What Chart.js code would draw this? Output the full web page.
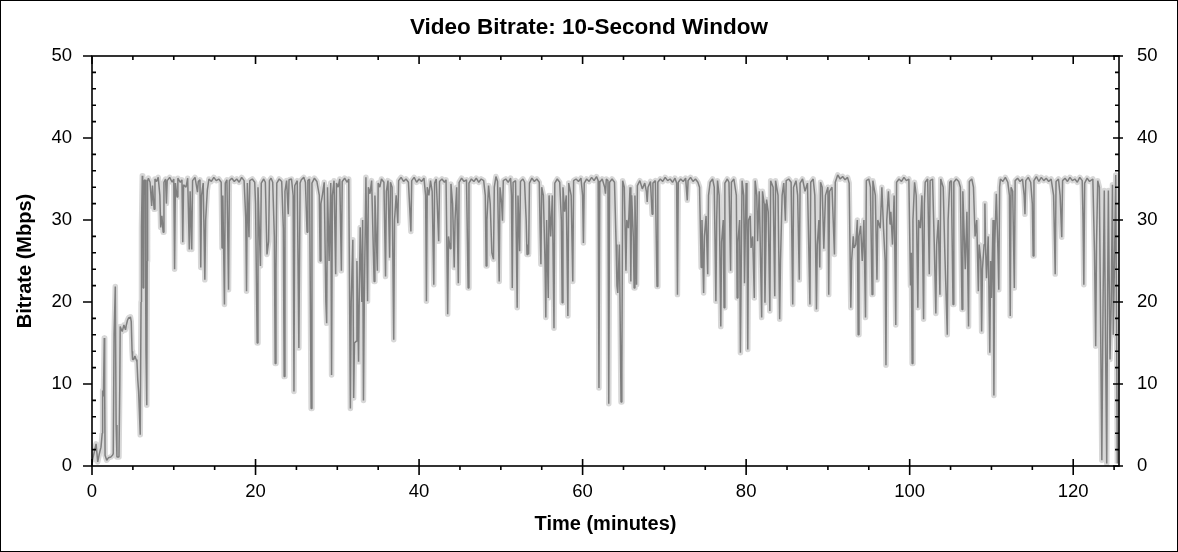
<!DOCTYPE html>
<html>
<head>
<meta charset="utf-8">
<title>Video Bitrate: 10-Second Window</title>
<script src="https://cdn.jsdelivr.net/npm/chart.js@4.4.1/dist/chart.umd.min.js"></script>
<style>
  html, body { margin: 0; padding: 0; background: #fff; }
  #wrap { width: 1178px; height: 552px; }
</style>
</head>
<body>
<div id="wrap"><canvas id="bitrate-chart" width="1178" height="552"></canvas></div>
<script>
const chartTitle = 'Video Bitrate: 10-Second Window';
const xTitle = 'Time (minutes)';
const yTitle = 'Bitrate (Mbps)';
const xMax = 125.6;
const yMax = 50;
const xMajor = 20, xMinor = 5, yMajor = 10, yMinor = 2;

// time of each sample, in minutes
const minutes = [
  0, 0.3, 0.5, 0.7, 0.9, 1.1, 1.25, 1.3, 1.4, 1.5,
  1.55, 1.6, 1.8, 2.0, 2.3, 2.5, 2.6, 2.7, 2.85, 2.95,
  3.05, 3.3, 3.4, 3.45, 3.6, 3.7, 3.9, 4.1, 4.2, 4.35,
  4.5, 4.6, 4.7, 4.8, 4.9, 4.96, 5.1, 5.25, 5.4, 5.5,
  5.6, 5.7, 5.8, 5.9, 6.0, 6.05, 6.15, 6.2, 6.26, 6.32,
  6.38, 6.5, 6.6, 6.7, 6.75, 6.8,
  6.9, 7.1, 7.3, 7.4, 7.6, 7.7, 7.9, 8.1, 8.3, 8.4,
  8.55, 8.7, 8.8, 9.0, 9.1, 9.2, 9.5, 9.8, 10.0, 10.1,
  10.2, 10.4, 10.5, 10.8, 11.0, 11.1, 11.2, 11.5, 11.7, 11.9,
  12.0, 12.2, 12.3, 12.6, 12.9, 13.0, 13.2, 13.3, 13.4, 13.6,
  13.8, 13.9, 14.1, 14.3, 14.6, 14.9, 15.2, 15.5, 15.8, 15.9,
  16.0, 16.2, 16.3, 16.5, 16.7, 16.8, 17.1, 17.4, 17.7, 18.0,
  18.3, 18.6, 18.8, 18.9, 19.0, 19.2, 19.3, 19.6, 19.9, 20.0,
  20.2, 20.3, 20.6, 20.7, 21.0, 21.2, 21.4, 21.6, 21.7, 21.9,
  22.1, 22.3, 22.4, 22.5, 22.6, 22.9, 23.2, 23.4, 23.5, 23.6,
  23.8, 24.0, 24.1, 24.4, 24.6, 24.7, 24.8, 25.1, 25.3, 25.45,
  25.6, 25.9, 26.1, 26.3, 26.4, 26.6, 26.8, 26.9, 27.2, 27.5,
  27.8, 27.9, 28.0, 28.2, 28.4, 28.6, 28.7, 28.8, 29.0, 29.2,
  29.3, 29.4, 29.6, 29.8, 29.9, 30.1, 30.3, 30.5, 30.6, 30.9,
  31.2, 31.4, 31.6, 31.7, 31.9, 32.0, 32.1, 32.3, 32.4, 32.6,
  32.7, 32.8, 33.0, 33.1, 33.2, 33.3, 33.5, 33.7, 33.8, 34.0,
  34.2, 34.5, 34.6, 34.9, 35.0, 35.2, 35.4, 35.7, 35.9, 36.0,
  36.2, 36.4, 36.5, 36.7, 36.9, 37.0, 37.2, 37.4, 37.5, 37.8,
  38.1, 38.4, 38.7, 39.0, 39.1, 39.4, 39.7, 40.0, 40.3, 40.6,
  40.8, 40.9, 41.0, 41.2, 41.4, 41.6, 41.8, 41.9, 42.1, 42.4,
  42.5, 42.8, 43.1, 43.3, 43.5, 43.6, 43.8, 43.9, 44.1, 44.3,
  44.4, 44.6, 44.8, 44.9, 45.2, 45.5, 45.8, 46.0, 46.1, 46.4,
  46.7, 47.0, 47.3, 47.6, 47.9, 48.1, 48.2, 48.3, 48.5, 48.7,
  48.9, 49.1, 49.2, 49.4, 49.6, 49.8, 49.9, 50.1, 50.2, 50.3,
  50.6, 50.9,
  51.2, 51.3, 51.4, 51.5, 51.8, 52.0, 52.1, 52.3, 52.4, 52.7,
  52.9, 53.1, 53.2, 53.3, 53.4, 53.5, 53.8, 54.1, 54.4, 54.7,
  54.8, 54.9, 55.0, 55.2, 55.4, 55.5, 55.6, 55.8, 55.9, 56.1,
  56.3, 56.5, 56.6, 56.9, 57.2, 57.4, 57.5, 57.6, 57.8, 58.0,
  58.2, 58.3, 58.6, 58.8, 58.9, 59.2, 59.5, 59.8, 60.0, 60.1,
  60.2, 60.5, 60.8, 61.1, 61.4, 61.7, 61.9, 62.0, 62.1, 62.4,
  62.7, 62.8, 62.9, 63.1, 63.2, 63.3, 63.6, 63.9, 64.1, 64.2,
  64.3, 64.5, 64.7, 64.8, 64.9, 65.1, 65.3, 65.4, 65.6, 65.8,
  65.9, 66.0, 66.2, 66.3, 66.4, 66.6, 66.7, 67.0, 67.3, 67.6,
  67.8, 67.9, 68.0, 68.3, 68.5, 68.6, 68.9, 69.1, 69.2, 69.5,
  69.8, 70.1, 70.4, 70.7, 71.0, 71.3, 71.5, 71.6, 71.7, 72.0,
  72.3, 72.6, 72.8, 72.9, 73.2, 73.5, 73.8, 74.1, 74.3, 74.5,
  74.6, 74.8, 74.9, 75.1, 75.3, 75.4, 75.6, 75.9, 76.1, 76.3,
  76.4,
  76.5, 76.7, 76.9, 77.0, 77.2, 77.3, 77.4, 77.7, 77.9, 78.1,
  78.2, 78.5, 78.8, 78.9, 79.0, 79.2, 79.3, 79.5, 79.7, 79.8,
  80.0, 80.1, 80.2, 80.3, 80.5, 80.6, 80.8, 81.0, 81.1, 81.3,
  81.4, 81.6, 81.9, 82.0, 82.2, 82.3, 82.5, 82.7, 82.9, 83.0,
  83.3, 83.5, 83.6, 83.9, 84.1, 84.2, 84.4, 84.6, 84.8, 84.9,
  85.2, 85.5, 85.7, 85.8, 86.1, 86.3, 86.5, 86.6, 86.9, 87.2,
  87.5, 87.8, 87.9, 88.2, 88.4, 88.6, 88.7, 88.9, 89.0, 89.1,
  89.3, 89.5, 89.7, 90.0, 90.1, 90.2, 90.5, 90.8, 90.9, 91.2,
  91.5, 91.8, 92.1, 92.4, 92.6, 92.8, 92.9, 93.1, 93.2, 93.4,
  93.6, 93.7, 93.8, 94.0, 94.2, 94.4, 94.6, 94.7, 95.0, 95.2,
  95.4, 95.5, 95.8, 96.0, 96.1, 96.4, 96.6, 96.8, 97.0, 97.1,
  97.2, 97.4, 97.6, 97.7, 97.9, 98.1, 98.3, 98.4, 98.7, 99.0,
  99.3, 99.6, 99.9, 100.1, 100.2, 100.3, 100.4, 100.6, 100.8, 101.0,
  101.1, 101.3, 101.5, 101.7, 101.8,
  101.9, 102.2, 102.4, 102.5, 102.8, 103.0, 103.2, 103.3, 103.5, 103.7,
  103.8, 104.1, 104.3, 104.6, 104.7, 104.9, 105.1, 105.3, 105.4, 105.7,
  106.0, 106.2, 106.4, 106.5, 106.8, 107.0, 107.2, 107.3, 107.6, 107.8,
  108.0, 108.2, 108.4, 108.5, 108.7, 108.8, 108.9, 109.1, 109.2, 109.3,
  109.4, 109.6, 109.8, 109.9, 110.0, 110.2, 110.3, 110.4, 110.6, 110.8,
  110.9, 111.0, 111.1, 111.4, 111.7, 112.0, 112.2, 112.3, 112.4, 112.6,
  112.8, 112.9, 113.2, 113.5, 113.8, 114.0, 114.1, 114.2, 114.5, 114.8,
  115.0, 115.1, 115.2, 115.5, 115.8, 116.1, 116.4, 116.7, 117.0, 117.3,
  117.6, 117.8, 117.9, 118.2, 118.4, 118.6, 118.7, 119.0, 119.3, 119.6,
  119.9, 120.2, 120.5, 120.8, 121.1, 121.2, 121.3, 121.4, 121.7, 122.0,
  122.4, 122.6, 122.75, 122.85, 123.0, 123.2, 123.5, 123.65, 123.8, 123.95,
  124.1, 124.2, 124.3, 124.4, 124.5, 124.65, 124.8, 124.9, 125.05, 125.2,
  125.4
];

// bitrate over the 10-second window ending at each sample, in Mbps
const mbps = [
  0.5, 1.8, 2.7, 0.5, 1.5, 2.3, 4.0, 9.2, 8.5, 15.6,
  9.0, 1.3, 0.7, 1.0, 1.1, 1.3, 1.5, 16.0, 21.9, 5.0,
  1.1, 1.1, 10.0, 17.0, 16.6, 16.4, 17.2, 16.6, 17.2, 17.8,
  18.1, 18.0, 18.2, 17.6, 14.0, 13.0, 13.0, 13.4, 13.0, 12.7,
  10.5, 9.1, 6.5, 3.8, 20.0, 29.1, 35.4, 34.6, 21.7, 33.0,
  34.8, 34.9, 14.0, 7.4, 25.0, 34.8,
  35.1, 34.6, 31.7, 34.2, 31.3, 35.0, 34.7, 35.2, 33.0, 29.1,
  30.5, 28.5, 34.6, 35.0, 32.0, 34.8, 35.2, 34.6, 35.0, 24.0,
  34.5, 32.8, 35.1, 34.6, 34.9, 27.3, 34.3, 34.0, 35.1, 26.4,
  33.5, 26.4, 34.8, 35.2, 33.4, 34.7, 34.9, 24.2, 33.0, 34.5,
  22.7, 30.0, 33.6, 35.0, 34.7, 35.2, 34.8, 35.0, 34.6, 26.6,
  33.0, 19.7, 34.5, 34.9, 21.5, 34.8, 35.1, 34.7, 35.0, 34.6,
  35.2, 34.8, 30.3, 21.3, 34.5, 27.9, 34.8, 35.0, 34.6, 32.0,
  15.0, 34.0, 24.4, 34.5, 35.0, 34.6, 25.8, 27.4, 34.8, 35.1,
  34.6, 28.0, 12.5, 23.8, 34.5, 35.0, 34.7, 29.0, 10.9, 33.5,
  34.8, 30.7, 34.9, 35.0, 33.0, 9.1, 34.2, 34.8, 14.4, 34.5,
  34.9, 35.2, 34.6, 28.5, 34.8, 35.0, 7.0, 34.5, 35.1, 34.7,
  33.0, 25.0, 32.0, 33.2, 34.6, 20.0, 17.4, 34.0, 25.0, 34.5,
  11.1, 33.0, 34.8, 23.4, 34.5, 34.0, 35.0, 23.8, 34.7, 35.1,
  34.6, 35.0, 7.0, 20.0, 27.6, 8.3, 15.0, 15.2, 25.0, 12.7,
  22.0, 29.1, 20.0, 30.0, 8.0, 20.0, 35.2, 20.1, 34.0, 33.2,
  34.8, 22.5, 33.0, 23.8, 34.5, 34.0, 35.0, 34.6, 23.1, 33.5,
  34.8, 25.4, 34.6, 34.0, 15.4, 30.0, 33.0, 29.6, 34.8, 35.2,
  34.7, 35.0, 34.6, 28.6, 34.8, 35.2, 34.6, 35.0, 34.7, 35.1,
  33.0, 20.1, 34.0, 33.0, 34.8, 33.5, 22.1, 34.5, 35.0, 27.4,
  34.7, 35.0, 34.6, 34.9, 18.5, 28.0, 26.5, 34.4, 32.0, 24.2,
  30.0, 34.0, 22.3, 34.6, 35.1, 34.7, 34.9, 21.7, 34.5, 35.0,
  34.7, 35.1, 34.6, 35.0, 34.8, 33.0, 24.4, 30.0, 34.2, 32.0,
  26.0, 25.2, 34.0, 35.3, 34.7, 22.5, 34.0, 32.0, 29.9, 34.8,
  35.0, 34.6,
  35.1, 33.0, 21.7, 34.6, 34.8, 19.3, 33.0, 26.2, 34.7, 35.0,
  34.6, 30.0, 25.8, 27.0, 25.8, 34.5, 35.1, 34.7, 35.0, 34.6,
  29.0, 24.6, 34.0, 33.0, 25.0, 18.1, 30.0, 20.5, 33.0, 28.0,
  33.0, 16.8, 34.5, 35.0, 34.6, 30.0, 19.9, 34.0, 31.0, 33.0,
  18.3, 34.5, 33.0, 22.5, 34.8, 35.0, 34.7, 35.1, 33.0, 27.2,
  34.5, 35.0, 34.7, 35.2, 34.8, 35.3, 34.8, 9.5, 34.6, 35.0,
  34.0, 33.2, 35.0, 34.8, 7.6, 34.6, 35.0, 34.6, 27.0, 22.0,
  21.1, 27.0, 7.8, 11.3, 34.8, 34.0, 23.8, 30.0, 29.0, 34.0,
  22.5, 33.0, 28.0, 21.7, 33.0, 22.1, 34.2, 34.8, 33.8, 34.5,
  33.5, 32.2, 34.0, 34.7, 30.7, 34.5, 34.8, 21.9, 34.6, 35.0,
  34.7, 35.2, 34.8, 35.0, 34.6, 35.1, 34.5, 20.9, 34.6, 35.0,
  34.7, 35.1, 32.4, 34.8, 35.2, 34.7, 35.0, 34.6, 34.0, 24.2,
  30.0, 21.1, 28.0, 30.5, 23.4, 33.0, 34.6, 35.0, 34.0, 20.1,
  30.0,
  34.8, 33.0, 17.0, 27.3, 30.0, 19.3, 34.5, 35.0, 34.6, 23.8,
  34.6, 35.0, 33.0, 20.5, 27.3, 30.0, 13.8, 34.8, 33.0, 22.3,
  34.5, 30.0, 14.2, 30.0, 30.5, 26.6, 28.0, 20.5, 34.8, 33.0,
  27.4, 33.5, 18.1, 33.5, 32.0, 19.9, 32.5, 31.0, 18.9, 34.8,
  34.0, 20.7, 34.8, 33.0, 17.9, 25.0, 33.0, 34.5, 29.9, 34.8,
  35.0, 34.6, 19.7, 34.0, 34.8, 33.0, 22.7, 34.5, 35.0, 33.5,
  34.5, 19.7, 34.6, 35.0, 33.0, 19.1, 27.0, 30.0, 24.2, 34.6,
  34.0, 26.5, 33.0, 34.0, 20.9, 33.5, 34.0, 25.8, 34.6, 35.5,
  35.0, 35.3, 34.9, 35.2, 34.5, 19.3, 25.0, 28.0, 26.6, 27.0,
  30.0, 16.0, 28.0, 29.3, 25.0, 30.0, 18.1, 34.8, 35.0, 34.0,
  20.9, 34.8, 33.0, 22.7, 30.0, 29.0, 34.0, 29.0, 25.0, 12.3,
  30.0, 33.5, 29.5, 31.0, 27.0, 33.0, 17.2, 34.6, 35.0, 34.7,
  35.2, 34.8, 35.0, 22.0, 26.0, 12.5, 30.0, 34.6, 33.0, 19.3,
  30.0, 29.0, 33.0, 17.9, 32.0,
  34.6, 35.0, 23.4, 34.8, 35.0, 27.3, 18.6, 27.0, 30.0, 20.9,
  35.0, 34.0, 26.0, 16.0, 30.0, 34.6, 34.8, 19.7, 34.6, 35.0,
  34.7, 34.0, 19.1, 33.5, 24.0, 31.0, 17.0, 34.7, 35.0, 34.0,
  28.0, 30.0, 21.3, 27.0, 25.0, 16.4, 24.0, 27.0, 32.0, 26.0,
  22.9, 28.0, 13.8, 25.0, 20.5, 30.0, 8.6, 27.0, 33.2, 26.0,
  21.5, 34.0, 35.0, 34.7, 35.2, 34.6, 33.0, 18.3, 34.0, 33.5,
  21.7, 34.8, 35.1, 34.7, 35.0, 33.0, 30.7, 34.8, 35.2, 34.6,
  32.0, 25.6, 34.8, 35.3, 34.7, 35.2, 34.8, 35.1, 34.7, 35.0,
  33.0, 23.4, 34.7, 35.0, 33.0, 27.9, 34.8, 35.1, 34.7, 35.2,
  34.8, 35.0, 34.6, 35.2, 34.8, 30.0, 22.1, 34.5, 35.1, 34.7,
  35.0, 26.2, 14.6, 27.0, 34.8, 34.0, 0.7, 20.0, 33.6, 15.0,
  0.3, 20.0, 33.6, 23.0, 13.0, 20.0, 34.3, 16.0, 25.0, 35.5,
  0.3
];

const points = minutes.map((m, i) => ({ x: m, y: mbps[i] }));

const fontFamily = '"Liberation Sans", Arial, sans-serif';
const tickFont = { family: fontFamily, size: 18.5 };
const axisTitleFont = { family: fontFamily, size: 20, weight: 'bold' };

// box round the plot, outer border and the small tick marks
const frameTicks = {
  id: 'frameTicks',
  afterDraw(chart) {
    const { ctx, chartArea: a, scales: { x, y } } = chart;
    ctx.save();
    ctx.strokeStyle = '#000';
    ctx.lineWidth = 1;
    ctx.strokeRect(0.5, 0.5, chart.width - 1, chart.height - 1);
    ctx.lineWidth = 1.6;
    ctx.strokeRect(a.left, a.top, a.right - a.left, a.bottom - a.top);
    ctx.beginPath();
    for (let v = 0; v <= yMax; v += yMinor) {
      const py = y.getPixelForValue(v);
      if (v % yMajor === 0) {
        ctx.moveTo(a.left - 9, py); ctx.lineTo(a.left, py);
        ctx.moveTo(a.right - 6, py); ctx.lineTo(a.right + 4, py);
      } else {
        ctx.moveTo(a.left, py); ctx.lineTo(a.left + 4, py);
        ctx.moveTo(a.right - 4, py); ctx.lineTo(a.right, py);
      }
    }
    for (let v = 0; v <= xMax; v += xMinor) {
      const px = x.getPixelForValue(v);
      if (v % xMajor === 0) {
        ctx.moveTo(px, a.bottom - 7); ctx.lineTo(px, a.bottom + 9);
        ctx.moveTo(px, a.top); ctx.lineTo(px, a.top + 8);
      } else {
        ctx.moveTo(px, a.bottom); ctx.lineTo(px, a.bottom + 4);
        ctx.moveTo(px, a.top); ctx.lineTo(px, a.top + 4);
      }
    }
    ctx.stroke();
    ctx.restore();
  }
};

new Chart(document.getElementById('bitrate-chart'), {
  type: 'line',
  data: {
    datasets: [
      {
        label: 'Bitrate',
        data: points,
        borderColor: '#7f7f7f',
        borderWidth: 1.5,
        borderJoinStyle: 'bevel',
        pointRadius: 0,
        tension: 0,
        fill: false,
      },
      {
        label: 'Window range',
        data: points,
        borderColor: '#d8d8d8',
        borderWidth: 5.5,
        borderJoinStyle: 'round',
        pointRadius: 0,
        tension: 0,
        fill: false,
      },
    ],
  },
  options: {
    responsive: false,
    animation: false,
    layout: { padding: 0 },
    plugins: {
      legend: { display: false },
      tooltip: { enabled: false },
      title: {
        display: true,
        text: chartTitle,
        color: '#000',
        font: { family: fontFamily, size: 22.5, weight: 'bold' },
        padding: { top: 14, bottom: 15 },
      },
    },
    scales: {
      x: {
        type: 'linear',
        min: 0,
        max: xMax,
        afterFit(s) { s.height = 86; },
        grid: { display: false, drawTicks: false },
        border: { display: false },
        ticks: {
          stepSize: xMajor,
          includeBounds: false,
          autoSkip: false,
          maxRotation: 0,
          padding: 15,
          color: '#000',
          font: tickFont,
        },
        title: {
          display: true,
          text: xTitle,
          color: '#000',
          font: axisTitleFont,
          padding: { top: 0, bottom: 16 },
        },
      },
      y: {
        position: 'left',
        min: 0,
        max: yMax,
        afterFit(s) { s.width = 92; },
        grid: { display: false, drawTicks: false },
        border: { display: false },
        ticks: { stepSize: yMajor, padding: 20, color: '#000', font: tickFont },
        title: {
          display: true,
          text: yTitle,
          color: '#000',
          font: axisTitleFont,
          padding: { top: 13, bottom: 0 },
        },
      },
      y2: {
        position: 'right',
        min: 0,
        max: yMax,
        afterFit(s) { s.width = 59; },
        grid: { display: false, drawTicks: false },
        border: { display: false },
        ticks: { stepSize: yMajor, padding: 18, color: '#000', font: tickFont },
      },
    },
  },
  plugins: [frameTicks],
});
</script>
</body>
</html>
